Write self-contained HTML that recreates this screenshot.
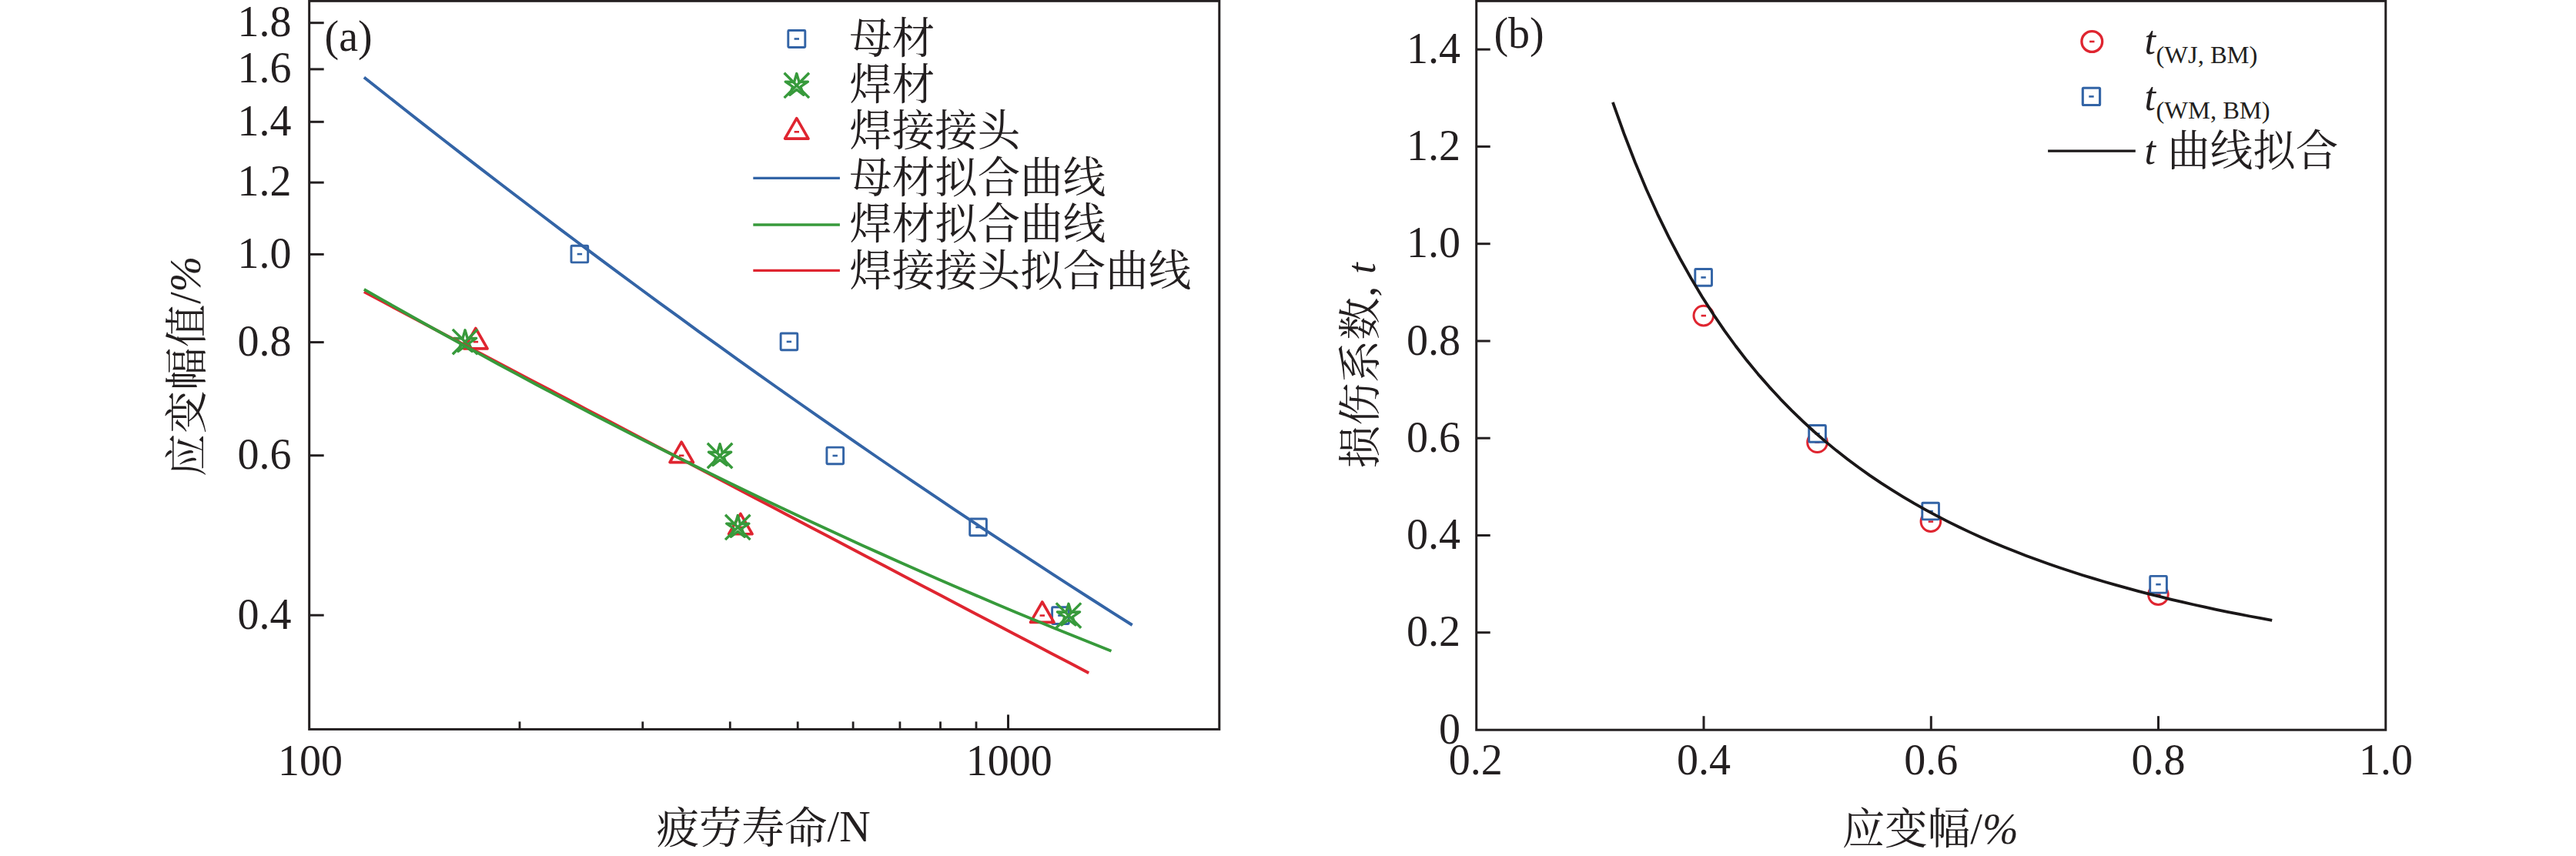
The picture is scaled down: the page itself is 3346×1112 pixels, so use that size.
<!DOCTYPE html>
<html><head><meta charset="utf-8"><title>figure</title>
<style>
html,body{margin:0;padding:0;background:#fff;}
body{width:3346px;height:1112px;overflow:hidden;}
svg{display:block;}
svg text{font-family:"Liberation Serif","Noto Serif CJK SC",serif;fill:#231f20;}
</style></head><body>
<svg width="3346" height="1112" viewBox="0 0 3346 1112">
<rect width="3346" height="1112" fill="#fff"/>
<rect x="401.7" y="1.3" width="1182.1" height="946.1" fill="none" stroke="#231f20" stroke-width="3.0"/>
<line x1="401.7" y1="29.7" x2="420.7" y2="29.7" stroke="#231f20" stroke-width="3"/>
<text x="378.6" y="47.0" font-size="56" text-anchor="end" >1.8</text>
<line x1="401.7" y1="89.9" x2="420.7" y2="89.9" stroke="#231f20" stroke-width="3"/>
<text x="378.6" y="107.2" font-size="56" text-anchor="end" >1.6</text>
<line x1="401.7" y1="158.3" x2="420.7" y2="158.3" stroke="#231f20" stroke-width="3"/>
<text x="378.6" y="175.6" font-size="56" text-anchor="end" >1.4</text>
<line x1="401.7" y1="237.1" x2="420.7" y2="237.1" stroke="#231f20" stroke-width="3"/>
<text x="378.6" y="254.4" font-size="56" text-anchor="end" >1.2</text>
<line x1="401.7" y1="330.4" x2="420.7" y2="330.4" stroke="#231f20" stroke-width="3"/>
<text x="378.6" y="347.7" font-size="56" text-anchor="end" >1.0</text>
<line x1="401.7" y1="444.6" x2="420.7" y2="444.6" stroke="#231f20" stroke-width="3"/>
<text x="378.6" y="461.9" font-size="56" text-anchor="end" >0.8</text>
<line x1="401.7" y1="591.7" x2="420.7" y2="591.7" stroke="#231f20" stroke-width="3"/>
<text x="378.6" y="609.0" font-size="56" text-anchor="end" >0.6</text>
<line x1="401.7" y1="799.2" x2="420.7" y2="799.2" stroke="#231f20" stroke-width="3"/>
<text x="378.6" y="816.5" font-size="56" text-anchor="end" >0.4</text>
<line x1="675.0" y1="947.4" x2="675.0" y2="937.4" stroke="#231f20" stroke-width="2.8"/>
<line x1="834.8" y1="947.4" x2="834.8" y2="937.4" stroke="#231f20" stroke-width="2.8"/>
<line x1="948.3" y1="947.4" x2="948.3" y2="937.4" stroke="#231f20" stroke-width="2.8"/>
<line x1="1036.2" y1="947.4" x2="1036.2" y2="937.4" stroke="#231f20" stroke-width="2.8"/>
<line x1="1108.1" y1="947.4" x2="1108.1" y2="937.4" stroke="#231f20" stroke-width="2.8"/>
<line x1="1168.9" y1="947.4" x2="1168.9" y2="937.4" stroke="#231f20" stroke-width="2.8"/>
<line x1="1221.5" y1="947.4" x2="1221.5" y2="937.4" stroke="#231f20" stroke-width="2.8"/>
<line x1="1268.0" y1="947.4" x2="1268.0" y2="937.4" stroke="#231f20" stroke-width="2.8"/>
<line x1="1309.5" y1="947.4" x2="1309.5" y2="928.4" stroke="#231f20" stroke-width="3"/>
<text x="403.0" y="1006.8" font-size="56" text-anchor="middle" >100</text>
<text x="1310.7" y="1006.8" font-size="56" text-anchor="middle" >1000</text>
<text x="991.6" y="1094.6" font-size="55.5" text-anchor="middle" >疲劳寿命<tspan dy="-1.7" font-size="56">/N</tspan></text>
<text transform="translate(261.7,619.0) rotate(-90)" font-size="55.5" text-anchor="start"><tspan letter-spacing="0.5">应变幅值</tspan><tspan dy="-1.7" dx="0.3" font-size="56">/<tspan font-style="italic" dx="-0.4">%</tspan></tspan></text>
<text x="421.6" y="66.2" font-size="56" text-anchor="start" >(a)</text>
<rect x="742.0" y="319.2" width="21.7" height="21.7" rx="1" fill="#fff" stroke="#3364a6" stroke-width="2.9"/><rect x="749.7" y="328.8" width="6.4" height="2.6" fill="#3364a6"/>
<rect x="1014.1" y="433.0" width="21.7" height="21.7" rx="1" fill="#fff" stroke="#3364a6" stroke-width="2.9"/><rect x="1021.7" y="442.6" width="6.4" height="2.6" fill="#3364a6"/>
<rect x="1073.9" y="581.1" width="21.7" height="21.7" rx="1" fill="#fff" stroke="#3364a6" stroke-width="2.9"/><rect x="1081.5" y="590.7" width="6.4" height="2.6" fill="#3364a6"/>
<rect x="1259.7" y="674.0" width="21.7" height="21.7" rx="1" fill="#fff" stroke="#3364a6" stroke-width="2.9"/><rect x="1267.3" y="683.6" width="6.4" height="2.6" fill="#3364a6"/>
<rect x="1366.6" y="788.8" width="21.7" height="21.7" rx="1" fill="#fff" stroke="#3364a6" stroke-width="2.9"/><rect x="1374.2" y="798.3" width="6.4" height="2.6" fill="#3364a6"/>
<path d="M617.9 426.5L633.1 452.9L602.6 452.9Z" fill="none" stroke="#df2530" stroke-width="3.6" stroke-linejoin="round"/><rect x="614.7" y="442.8" width="6.4" height="2.6" fill="#df2530"/>
<path d="M885.2 574.2L900.5 600.6L870.0 600.6Z" fill="none" stroke="#df2530" stroke-width="3.6" stroke-linejoin="round"/><rect x="882.0" y="590.5" width="6.4" height="2.6" fill="#df2530"/>
<path d="M961.9 667.3L977.1 693.7L946.6 693.7Z" fill="none" stroke="#df2530" stroke-width="3.6" stroke-linejoin="round"/><rect x="958.7" y="683.6" width="6.4" height="2.6" fill="#df2530"/>
<path d="M1353.8 782.0L1369.0 808.4L1338.5 808.4Z" fill="none" stroke="#df2530" stroke-width="3.6" stroke-linejoin="round"/><rect x="1350.6" y="798.3" width="6.4" height="2.6" fill="#df2530"/>
<path d="M604.1 428.8L607.3 439.7L618.7 439.4L609.2 445.8L613.1 456.5L604.1 449.5L595.1 456.5L599.0 445.8L589.5 439.4L600.9 439.7Z" fill="none" stroke="#379a3b" stroke-width="3.4" stroke-linejoin="round"/><path d="M587.9 427.9L620.3 460.3M587.9 460.3L620.3 427.9" fill="none" stroke="#379a3b" stroke-width="3.4" stroke-linecap="butt"/>
<path d="M935.1 576.7L938.3 587.6L949.7 587.3L940.2 593.7L944.1 604.4L935.1 597.4L926.1 604.4L930.0 593.7L920.5 587.3L931.9 587.6Z" fill="none" stroke="#379a3b" stroke-width="3.4" stroke-linejoin="round"/><path d="M918.9 575.8L951.3 608.2M918.9 608.2L951.3 575.8" fill="none" stroke="#379a3b" stroke-width="3.4" stroke-linecap="butt"/>
<path d="M958.3 669.6L961.5 680.5L972.9 680.2L963.4 686.6L967.3 697.3L958.3 690.3L949.3 697.3L953.2 686.6L943.7 680.2L955.1 680.5Z" fill="none" stroke="#379a3b" stroke-width="3.4" stroke-linejoin="round"/><path d="M942.1 668.7L974.5 701.1M942.1 701.1L974.5 668.7" fill="none" stroke="#379a3b" stroke-width="3.4" stroke-linecap="butt"/>
<path d="M1388.0 784.3L1391.2 795.2L1402.6 794.9L1393.1 801.3L1397.0 812.0L1388.0 805.0L1379.0 812.0L1382.9 801.3L1373.4 794.9L1384.8 795.2Z" fill="none" stroke="#379a3b" stroke-width="3.4" stroke-linejoin="round"/><path d="M1371.8 783.4L1404.2 815.8M1371.8 815.8L1404.2 783.4" fill="none" stroke="#379a3b" stroke-width="3.4" stroke-linecap="butt"/>
<path d="M472.9 100.5L498.5 120.8L524.1 141.0L549.7 161.1L575.2 181.0L600.8 200.9L626.4 220.6L652.0 240.3L677.6 259.8L703.2 279.3L728.7 298.6L754.3 317.8L779.9 336.9L805.5 355.9L831.1 374.8L856.7 393.6L882.3 412.2L907.8 430.8L933.4 449.2L959.0 467.6L984.6 485.8L1010.2 504.0L1035.8 522.0L1061.3 539.9L1086.9 557.7L1112.5 575.4L1138.1 593.0L1163.7 610.5L1189.3 627.9L1214.9 645.2L1240.4 662.3L1266.0 679.4L1291.6 696.3L1317.2 713.2L1342.8 729.9L1368.4 746.6L1393.9 763.1L1419.5 779.5L1445.1 795.8L1470.7 812.0" fill="none" stroke="#3364a6" stroke-width="3.9"/>
<path d="M472.9 379.1L497.0 391.9L521.2 404.7L545.3 417.4L569.4 430.2L593.6 442.9L617.7 455.7L641.9 468.4L666.0 481.2L690.1 493.9L714.3 506.6L738.4 519.3L762.5 532.1L786.7 544.8L810.8 557.5L834.9 570.2L859.1 582.9L883.2 595.6L907.3 608.3L931.5 621.0L955.6 633.7L979.8 646.4L1003.9 659.1L1028.0 671.8L1052.2 684.5L1076.3 697.1L1100.4 709.8L1124.6 722.5L1148.7 735.1L1172.8 747.8L1197.0 760.4L1221.1 773.1L1245.2 785.7L1269.4 798.4L1293.5 811.0L1317.7 823.7L1341.8 836.3L1365.9 848.9L1390.1 861.6L1414.2 874.2" fill="none" stroke="#df2530" stroke-width="3.9"/>
<path d="M472.9 375.9L497.8 390.1L522.7 404.2L547.6 418.2L572.4 432.0L597.3 445.8L622.2 459.4L647.1 473.0L672.0 486.4L696.9 499.7L721.8 512.9L746.7 526.0L771.5 538.9L796.4 551.8L821.3 564.5L846.2 577.1L871.1 589.6L896.0 602.0L920.9 614.3L945.8 626.4L970.6 638.5L995.5 650.4L1020.4 662.2L1045.3 673.9L1070.2 685.5L1095.1 697.0L1120.0 708.4L1144.9 719.6L1169.7 730.8L1194.6 741.8L1219.5 752.7L1244.4 763.5L1269.3 774.1L1294.2 784.7L1319.1 795.2L1344.0 805.5L1368.8 815.7L1393.7 825.8L1418.6 835.8L1443.5 845.7" fill="none" stroke="#379a3b" stroke-width="3.9"/>
<rect x="1023.8" y="39.5" width="22.0" height="22.0" rx="1" fill="#fff" stroke="#3364a6" stroke-width="2.9"/><rect x="1031.6" y="49.2" width="6.4" height="2.6" fill="#3364a6"/>
<path d="M1034.8 95.6L1038.0 106.5L1049.4 106.2L1039.9 112.6L1043.8 123.3L1034.8 116.3L1025.8 123.3L1029.7 112.6L1020.2 106.2L1031.6 106.5Z" fill="none" stroke="#379a3b" stroke-width="3.4" stroke-linejoin="round"/><path d="M1018.6 94.7L1051.0 127.1M1018.6 127.1L1051.0 94.7" fill="none" stroke="#379a3b" stroke-width="3.4" stroke-linecap="butt"/>
<path d="M1034.8 153.7L1050.0 180.1L1019.5 180.1Z" fill="none" stroke="#df2530" stroke-width="3.6" stroke-linejoin="round"/><rect x="1031.6" y="170.0" width="6.4" height="2.6" fill="#df2530"/>
<line x1="978.3" y1="231.3" x2="1090.9" y2="231.3" stroke="#3364a6" stroke-width="3.3"/>
<line x1="978.3" y1="292" x2="1090.9" y2="292" stroke="#379a3b" stroke-width="3.3"/>
<line x1="978.3" y1="351.4" x2="1090.9" y2="351.4" stroke="#df2530" stroke-width="3.3"/>
<text x="1103.2" y="68.6" font-size="55.5" text-anchor="start" >母材</text>
<text x="1103.2" y="129.0" font-size="55.5" text-anchor="start" >焊材</text>
<text x="1103.2" y="189.4" font-size="55.5" text-anchor="start" >焊接接头</text>
<text x="1103.2" y="249.8" font-size="55.5" text-anchor="start" >母材拟合曲线</text>
<text x="1103.2" y="310.2" font-size="55.5" text-anchor="start" >焊材拟合曲线</text>
<text x="1103.2" y="370.6" font-size="55.5" text-anchor="start" >焊接接头拟合曲线</text>
<rect x="1917.7" y="1.3" width="1181.1" height="946.9" fill="none" stroke="#231f20" stroke-width="3.0"/>
<line x1="1917.7" y1="64.2" x2="1935.7" y2="64.2" stroke="#231f20" stroke-width="3"/>
<text x="1897.0" y="81.8" font-size="56" text-anchor="end" >1.4</text>
<line x1="1917.7" y1="190.4" x2="1935.7" y2="190.4" stroke="#231f20" stroke-width="3"/>
<text x="1897.0" y="208.0" font-size="56" text-anchor="end" >1.2</text>
<line x1="1917.7" y1="316.7" x2="1935.7" y2="316.7" stroke="#231f20" stroke-width="3"/>
<text x="1897.0" y="334.3" font-size="56" text-anchor="end" >1.0</text>
<line x1="1917.7" y1="443.0" x2="1935.7" y2="443.0" stroke="#231f20" stroke-width="3"/>
<text x="1897.0" y="460.6" font-size="56" text-anchor="end" >0.8</text>
<line x1="1917.7" y1="569.2" x2="1935.7" y2="569.2" stroke="#231f20" stroke-width="3"/>
<text x="1897.0" y="586.8" font-size="56" text-anchor="end" >0.6</text>
<line x1="1917.7" y1="695.5" x2="1935.7" y2="695.5" stroke="#231f20" stroke-width="3"/>
<text x="1897.0" y="713.1" font-size="56" text-anchor="end" >0.4</text>
<line x1="1917.7" y1="821.7" x2="1935.7" y2="821.7" stroke="#231f20" stroke-width="3"/>
<text x="1897.0" y="839.3" font-size="56" text-anchor="end" >0.2</text>
<text x="1897.0" y="965.6" font-size="56" text-anchor="end" >0</text>
<text x="1916.7" y="1005.9" font-size="56" text-anchor="middle" >0.2</text>
<line x1="2213.0" y1="948.2" x2="2213.0" y2="930.2" stroke="#231f20" stroke-width="3"/>
<text x="2213.0" y="1005.9" font-size="56" text-anchor="middle" >0.4</text>
<line x1="2508.3" y1="948.2" x2="2508.3" y2="930.2" stroke="#231f20" stroke-width="3"/>
<text x="2508.3" y="1005.9" font-size="56" text-anchor="middle" >0.6</text>
<line x1="2803.5" y1="948.2" x2="2803.5" y2="930.2" stroke="#231f20" stroke-width="3"/>
<text x="2803.5" y="1005.9" font-size="56" text-anchor="middle" >0.8</text>
<text x="3099.0" y="1005.9" font-size="56" text-anchor="middle" >1.0</text>
<text x="2507.2" y="1095.8" font-size="55.5" text-anchor="middle" >应变幅<tspan font-size="56">/<tspan font-style="italic">%</tspan></tspan></text>
<text transform="translate(1786.2,474.8) rotate(-90)" font-size="55.5" text-anchor="middle">损伤系数<tspan font-size="56" dx="0.5">, </tspan><tspan font-style="italic" font-size="52" dx="2">t</tspan></text>
<text x="1940.4" y="61.6" font-size="56" text-anchor="start" >(b)</text>
<circle cx="2212.8" cy="410.1" r="12.8" fill="none" stroke="#df2530" stroke-width="3.0"/><rect x="2209.6" y="408.8" width="6.4" height="2.6" fill="#df2530"/>
<circle cx="2360.5" cy="574.7" r="12.8" fill="none" stroke="#df2530" stroke-width="3.0"/><rect x="2357.3" y="573.4" width="6.4" height="2.6" fill="#df2530"/>
<circle cx="2507.9" cy="677.6" r="12.8" fill="none" stroke="#df2530" stroke-width="3.0"/><rect x="2504.7" y="676.3" width="6.4" height="2.6" fill="#df2530"/>
<circle cx="2803.4" cy="772.6" r="12.8" fill="none" stroke="#df2530" stroke-width="3.0"/><rect x="2800.2" y="771.3" width="6.4" height="2.6" fill="#df2530"/>
<rect x="2201.8" y="349.5" width="21.7" height="21.7" rx="1" fill="#fff" stroke="#3364a6" stroke-width="2.9"/><rect x="2209.4" y="359.1" width="6.4" height="2.6" fill="#3364a6"/>
<rect x="2349.7" y="552.5" width="21.7" height="21.7" rx="1" fill="#fff" stroke="#3364a6" stroke-width="2.9"/><rect x="2357.3" y="562.1" width="6.4" height="2.6" fill="#3364a6"/>
<rect x="2496.8" y="653.2" width="21.7" height="21.7" rx="1" fill="#fff" stroke="#3364a6" stroke-width="2.9"/><rect x="2504.4" y="662.8" width="6.4" height="2.6" fill="#3364a6"/>
<rect x="2792.7" y="748.4" width="21.7" height="21.7" rx="1" fill="#fff" stroke="#3364a6" stroke-width="2.9"/><rect x="2800.3" y="757.9" width="6.4" height="2.6" fill="#3364a6"/>
<path d="M2094.9 132.9L2109.4 173.5L2123.9 211.0L2138.4 245.7L2152.9 277.8L2167.4 307.7L2182.0 335.5L2196.5 361.4L2211.0 385.7L2225.5 408.3L2240.0 429.6L2254.5 449.5L2269.0 468.3L2283.5 485.9L2298.1 502.6L2312.6 518.3L2327.1 533.1L2341.6 547.2L2356.1 560.5L2370.6 573.1L2385.1 585.1L2399.7 596.4L2414.2 607.3L2428.7 617.6L2443.2 627.4L2457.7 636.7L2472.2 645.6L2486.7 654.2L2501.3 662.3L2515.8 670.1L2530.3 677.6L2544.8 684.7L2559.3 691.6L2573.8 698.2L2588.3 704.5L2602.8 710.5L2617.4 716.3L2631.9 721.9L2646.4 727.3L2660.9 732.5L2675.4 737.5L2689.9 742.3L2704.4 747.0L2719.0 751.4L2733.5 755.7L2748.0 759.9L2762.5 763.9L2777.0 767.8L2791.5 771.6L2806.0 775.2L2820.6 778.8L2835.1 782.2L2849.6 785.5L2864.1 788.7L2878.6 791.8L2893.1 794.8L2907.6 797.7L2922.2 800.5L2936.7 803.2L2951.2 805.9" fill="none" stroke="#1a1718" stroke-width="3.8" stroke-linejoin="round"/>
<circle cx="2717.3" cy="54.0" r="13.4" fill="none" stroke="#df2530" stroke-width="3.3"/><rect x="2714.1" y="52.7" width="6.4" height="2.6" fill="#df2530"/>
<rect x="2705.3" y="114.2" width="22.3" height="22.3" rx="1" fill="#fff" stroke="#3364a6" stroke-width="3.1"/><rect x="2713.3" y="124.1" width="6.4" height="2.6" fill="#3364a6"/>
<line x1="2660.1" y1="196.2" x2="2773.8" y2="196.2" stroke="#1a1718" stroke-width="3.3"/>
<text x="2785.5" y="70.4" font-size="52"><tspan font-style="italic">t</tspan><tspan font-size="32.5" dy="11.4" dx="0.6">(WJ, BM)</tspan></text>
<text x="2785.5" y="143" font-size="52"><tspan font-style="italic">t</tspan><tspan font-size="32.5" dy="11.4" dx="0.6">(WM, BM)</tspan></text>
<text x="2785.5" y="213.2" font-size="52"><tspan font-style="italic">t</tspan><tspan font-size="55.5" dx="15.2" dy="1.8">曲线拟合</tspan></text>
</svg>
</body></html>
